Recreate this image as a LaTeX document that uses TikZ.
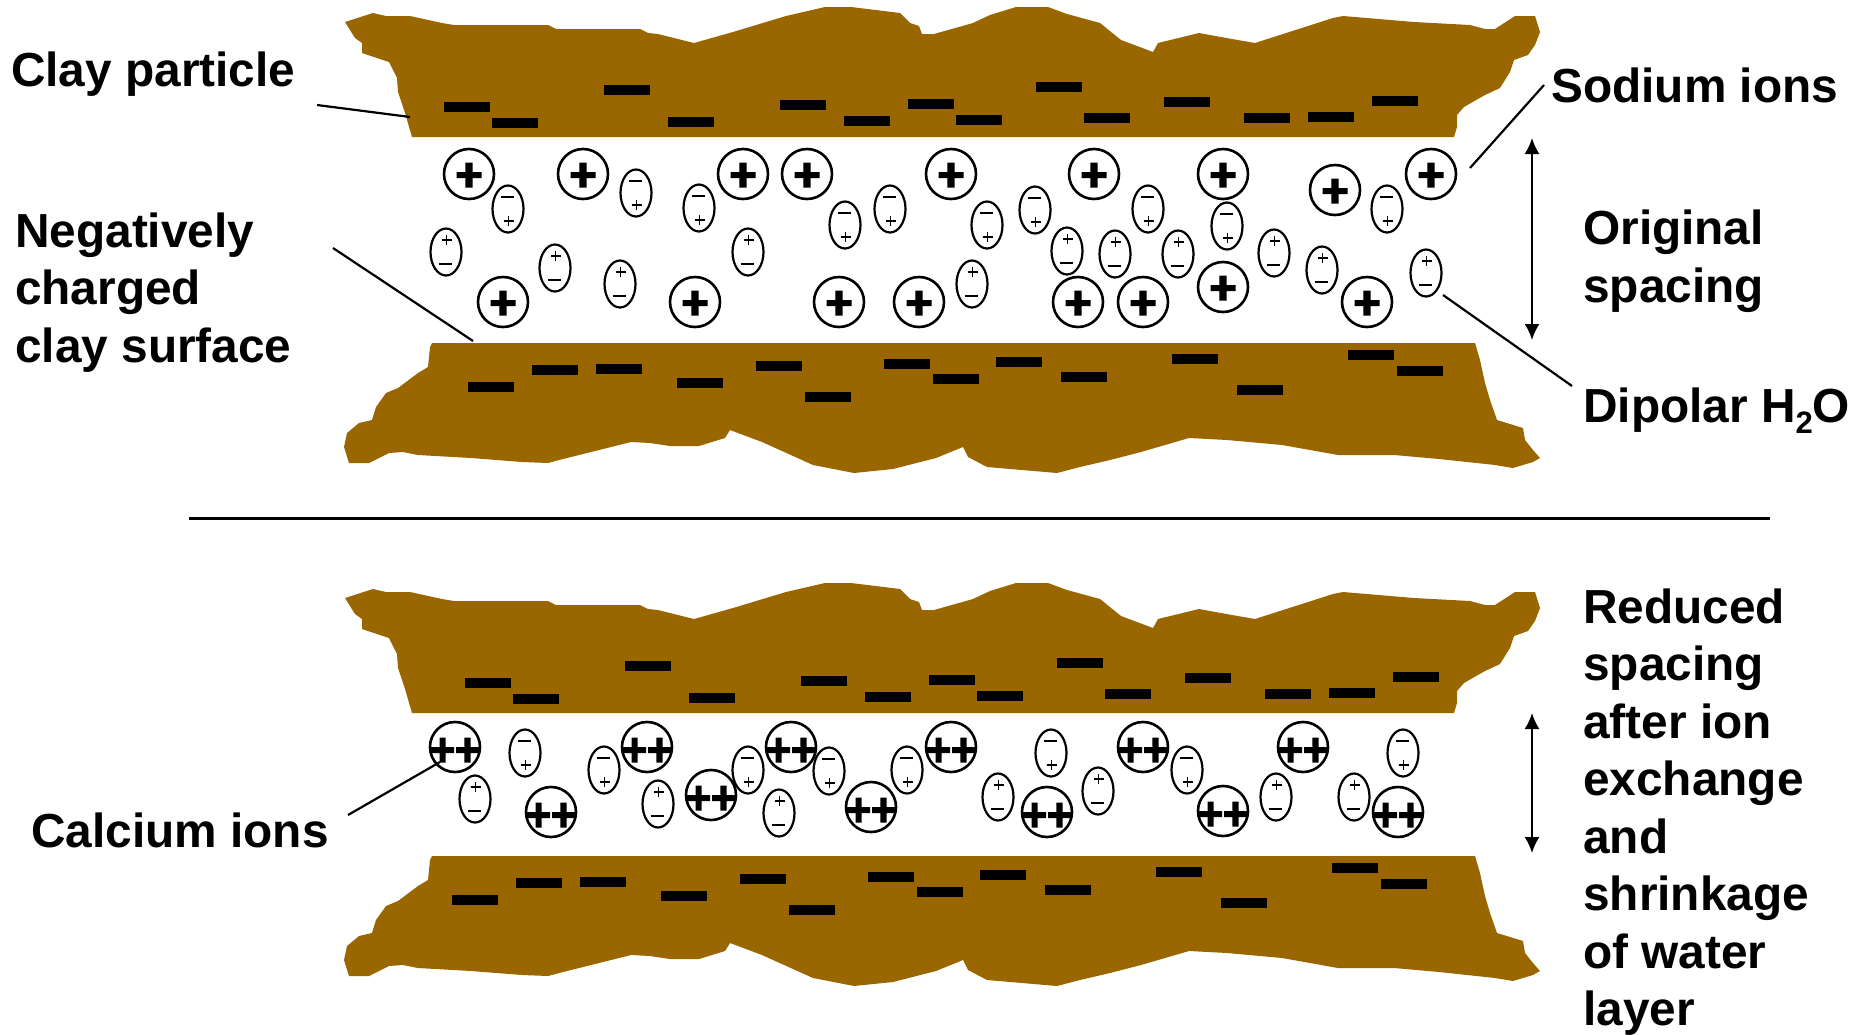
\documentclass[tikz,border=0pt]{standalone}
\usepackage{fontspec}
\setmainfont{Liberation Sans}
\usetikzlibrary{arrows.meta,shapes.geometric}
\tikzset{>={Latex[width=15pt,length=16pt]}}
\definecolor{claybrown}{RGB}{153,102,0}
\tikzset{
  flake/.style={fill=claybrown},
  naion/.style={circle, draw, line width=2.6pt, minimum size=50pt, inner sep=0pt},
  caion/.style={naion},
  water/.style={ellipse, draw, line width=2.2pt, minimum width=31pt, minimum height=47pt, inner sep=0pt},
  lbl/.style={font=\fontsize{47.8}{57.5}\selectfont\bfseries, inner sep=0pt, align=left, anchor=base west},
  lead/.style={line width=2.2pt},
}

\begin{document}
\begin{tikzpicture}[x=1pt, y=-1pt]

  \newcommand\upflake{(345,22) -- (373,13) -- (386,16) -- (410,16) -- (442,23) -- (454,25) -- (548,25) -- (556,29) -- (640,29) -- (648,33) -- (658,34) -- (694,43) -- (733,32) -- (786,16) -- (825,7) -- (851,7) -- (900,13) -- (910,23) -- (919,26) -- (922,34) -- (934,34) -- (973,23) -- (990,15) -- (1016,7) -- (1048,7) -- (1067,14) -- (1100,23) -- (1121,40) -- (1153,52) -- (1158,43) -- (1199,33) -- (1232,39) -- (1255,43) -- (1333,18) -- (1343,16) -- (1414,22) -- (1470,25) -- (1485,29) -- (1495,29) -- (1515,16) -- (1535,16) -- (1540,32) -- (1535,45) -- (1528,55) -- (1514,60) -- (1510,72) -- (1500,88) -- (1485,95) -- (1464,107) -- (1457,115) -- (1457,127) -- (1454,137) -- (412,137) -- (405,113) -- (398,92) -- (397,78) -- (389,62) -- (362,53) -- (362,43) -- (355,38) -- (350,30) -- cycle}
  \newcommand\downflake{(432,343) -- (1475,343) -- (1480,360) -- (1485,383) -- (1490,400) -- (1497,420) -- (1523,428) -- (1525,440) -- (1533,450) -- (1540,458) -- (1533,462) -- (1513,468) -- (1495,465) -- (1439,459) -- (1394,455) -- (1338,455) -- (1282,445) -- (1227,440) -- (1189,438) -- (1141,452) -- (1110,460) -- (1080,467) -- (1057,473) -- (987,467) -- (968,457) -- (963,447) -- (936,458) -- (893,469) -- (854,473) -- (813,465) -- (762,442) -- (730,430) -- (725,438) -- (699,446) -- (670,446) -- (650,443) -- (631,442) -- (563,459) -- (548,463) -- (522,462) -- (471,458) -- (418,455) -- (403,452) -- (389,453) -- (369,463) -- (349,463) -- (344,447) -- (347,433) -- (359,423) -- (372,420) -- (376,407) -- (386,393) -- (398,388) -- (418,373) -- (428,367) -- (430,347) -- cycle}
  \newcommand\upbars{467/107, 515/123, 627/90, 691/122, 803/105, 867/121, 931/104, 979/120, 1059/87, 1107/118, 1187/102, 1267/118, 1331/117, 1395/101}
  \newcommand\downbars{491/387, 555/370, 619/369, 700/383, 779/366, 828/397, 907/364, 956/379, 1019/362, 1084/377, 1195/359, 1260/390, 1371/355, 1420/371}

  \useasboundingbox (0,0) rectangle (1873,1034);

  %% clay plates, original spacing
  \fill[flake] \upflake;
  \fill[flake] \downflake;
  \foreach \x/\y in \upbars {\fill[shift={(\x,\y)}] (-23,-5) rectangle (23,5);}
  \foreach \x/\y in \downbars {\fill[shift={(\x,\y)}] (-23,-5) rectangle (23,5);}

  %% clay plates, reduced spacing
  \begin{scope}[shift={(0,576)}]
    \fill[flake] \upflake;
    \foreach \x/\y in \upbars {\fill[shift={({\x+21},\y)}] (-23,-5) rectangle (23,5);}
  \end{scope}
  \begin{scope}[shift={(0,513)}]
    \fill[flake] \downflake;
    \foreach \x/\y in \downbars {\fill[shift={({\x-16},\y)}] (-23,-5) rectangle (23,5);}
  \end{scope}

  % sodium ions
  \foreach \x/\y [count=\i] in {469/174, 583/174, 743/174, 807/174, 951/174, 1094/174, 1223/174, 1431/174, 1335/190,
                               503/302, 695/302, 839/302, 919/302, 1078/302, 1143/302, 1367/302, 1223/287} {
    \node[naion] (na\i) at (\x,\y) {};
    \fill[shift={(\x,{\y+1})}] (-12.5,-3) rectangle (12.5,3) (-3.6,-12.5) rectangle (3.6,12.5);
  }

  % calcium ions
  \foreach \x/\y [count=\i] in {455/747, 551/812, 647/747, 711/795, 791/747, 871/807,
                               951/747, 1047/812, 1143/747, 1223/811, 1303/747, 1398/812} {
    \node[caion] (ca\i) at (\x,\y) {};
    \fill[shift={(\x,{\y+3})}] (-24.5,-3) rectangle (-1,3) (1,-3) rectangle (24.5,3)
      (-15.5,-12.5) rectangle (-9.3,12.5) (9.3,-12.5) rectangle (15.5,12.5);
  }

  % water dipoles, \s=1 puts the minus end on top
  \foreach \x/\y/\s [count=\i] in {446/252/-1, 508/209/1, 555/268/-1, 620/284/-1, 636/193/1, 699/208/1, 748/252/-1,
                                   845/225/1, 890/209/1, 972/284/-1, 987/225/1, 1035/210/1, 1067/251/-1, 1115/254/-1,
                                   1148/209/1, 1178/254/-1, 1227/226/1, 1274/253/-1, 1322/270/-1, 1387/209/1, 1426/273/-1} {
    \node[water] (wa\i) at (\x,\y) {};
    \draw[line width=1.3pt, shift={(\x,\y)}] (-7,{-12*\s}) -- (6,{-12*\s})
      (-4.5,{12*\s}) -- (5.5,{12*\s}) (0.5,{12*\s-5}) -- (0.5,{12*\s+5});
  }
  \foreach \x/\y/\s [count=\i] in {525/753/1, 475/799/-1, 604/770/1, 658/804/-1, 748/770/1, 779/813/-1, 829/771/1,
                                   907/770/1, 998/797/-1, 1051/753/1, 1098/791/-1, 1187/770/1, 1276/797/-1, 1354/797/-1, 1403/753/1} {
    \node[water] (wb\i) at (\x,\y) {};
    \draw[line width=1.3pt, shift={(\x,\y)}] (-7,{-12*\s}) -- (6,{-12*\s})
      (-4.5,{12*\s}) -- (5.5,{12*\s}) (0.5,{12*\s-5}) -- (0.5,{12*\s+5});
  }

  \draw[line width=2.2pt] (189,518.5) -- (1770,518.5); % divider

  % labels (multi-line ones sit on their last baseline)
  \node[lbl] (clay) at (11,86) {Clay particle};
  \node[lbl] (surf) at (15,362) {Negatively\\charged\\clay surface};
  \node[lbl] (calc) at (31,847) {Calcium ions};
  \node[lbl] (sod) at (1551,102) {Sodium ions};
  \node[lbl] (orig) at (1583,302) {Original\\spacing};
  \node[lbl] (dip) at (1583,422) {Dipolar H\raisebox{-11pt}{\fontsize{31}{31}\selectfont 2}O};
  \node[lbl] (red) at (1583,1025.5) {Reduced\\spacing\\after ion\\exchange\\and\\shrinkage\\of water\\layer};

  \coordinate (claytail) at (317,105);
  \coordinate (claytip) at (410,117);
  \coordinate (surftail) at (333,248);
  \coordinate (surftip) at (473,341);
  \coordinate (sodtail) at (1544,85);
  \coordinate (diptail) at (1572,386);
  \coordinate (calctail) at (348,815);

  \draw[lead] (claytail) -- (claytip); % -> plate
  \draw[lead] (surftail) -- (surftip); % -> surface
  \draw[lead] (sodtail) -- ([shift={(39,-6)}]na8.center); % -> Na+
  \draw[lead] (diptail) -- ([shift={(17,22)}]wa21.center); % -> H2O
  \draw[lead] (calctail) -- ([shift={(-15,15)}]ca1.center); % -> Ca++

  % spacing arrows
  \coordinate (gapA) at (1532,138);
  \coordinate (gapB) at (1532,340);
  \coordinate (gapC) at (1532,713);
  \coordinate (gapD) at (1532,853);
  \draw[<->, line width=2pt] (gapA) -- (gapB);
  \draw[<->, line width=2pt] (gapC) -- (gapD);

\end{tikzpicture}
\end{document}
